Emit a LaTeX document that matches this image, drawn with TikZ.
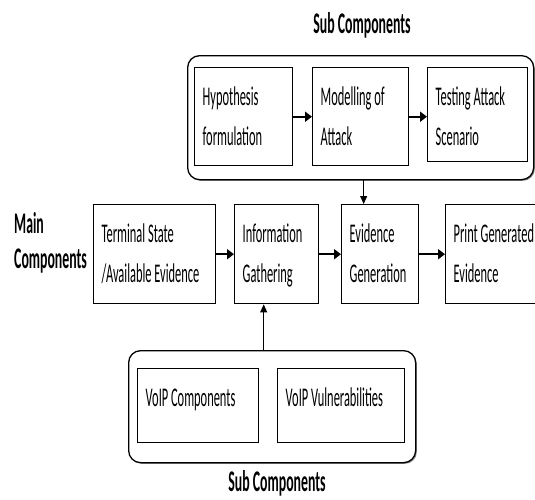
\documentclass[tikz,border=0pt]{standalone}
\usepackage{fontspec}
\setmainfont{Carlito}[FakeStretch=0.46]
\usetikzlibrary{arrows.meta,shadows}
% text of a box: fixed size, set from the top left
\newcommand{\cell}[3]{\parbox[c][#2][t]{#1}{\strut #3}}
\tikzset{
  box/.style={draw, line width=1.4pt, anchor=north west, inner xsep=8pt, inner ysep=10pt,
    font=\fontsize{27}{40}\selectfont},
  grp/.style={draw, fill=white, line width=1.3pt, rounded corners=12pt, anchor=north west,
    inner sep=0pt, drop shadow={shadow xshift=1.2pt, shadow yshift=-1.2pt, fill=black!45, opacity=1}},
  head/.style={font=\bfseries\fontsize{30}{35}\selectfont, inner sep=0pt},
  arr/.style={line width=1.8pt, -{Triangle[length=7pt,width=10pt]}},
  thinarr/.style={line width=0.9pt, -{Triangle[length=8pt,width=7pt]}}
}
\begin{document}
\begin{tikzpicture}[x=1pt,y=-1pt]
\clip (0,0) rectangle (535,499);
% groups of sub components
\node[grp, minimum width=346pt, minimum height=124pt] (topgrp) at (187,55) {};
\node[grp, minimum width=287pt, minimum height=112pt] (botgrp) at (128,350) {};
\node[head, anchor=base] (toptitle) at (362,33) {Sub Components};
\node[head, anchor=base] (bottitle) at (277,491) {Sub Components};
\node[head, anchor=west, align=left] (maintitle) at (14,242.5) {Main\\Components};
% sub components, top
\node[box] (hyp) at (194,67) {\cell{82pt}{78pt}{Hypothesis\\formulation}};
\node[box] (model) at (312,67) {\cell{80pt}{78pt}{Modelling of\\Attack}};
\node[box] (test) at (427,67) {\cell{84pt}{74pt}{Testing Attack\\Scenario}};
% main components
\node[box] (term) at (93,204) {\cell{106pt}{79pt}{Terminal State\\/Available Evidence}};
\node[box] (info) at (234,204) {\cell{68pt}{79pt}{Information\\Gathering}};
\node[box] (evid) at (341,204) {\cell{61pt}{79pt}{Evidence\\Generation}};
\node[box] (print) at (445,204) {\cell{94pt}{79pt}{Print Generated\\Evidence}};
% sub components, bottom
\node[box] (vcomp) at (137,368) {\cell{105pt}{54pt}{VoIP Components}};
\node[box] (vvuln) at (277,368) {\cell{111pt}{54pt}{VoIP Vulnerabilities}};
% arrows
\draw[arr] (hyp.east) -- (model.west);
\draw[arr] (model.east) -- (model.east -| test.west);
\draw[arr] (term.east) -- (term.east -| info.west);
\draw[arr] (info.east) -- (evid.west);
\draw[arr] (evid.east) -- (evid.east -| print.west);
\draw[thinarr] ([xshift=3pt]topgrp.south) -- ([xshift=3pt]topgrp.south |- evid.north);
\draw[thinarr] ([xshift=-13pt]info.south |- botgrp.north) -- ([xshift=-13pt]info.south);
\end{tikzpicture}
\end{document}
